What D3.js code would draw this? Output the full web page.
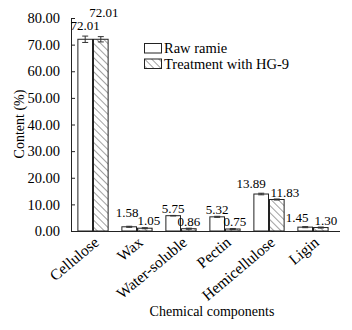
<!DOCTYPE html>
<html><head><meta charset="utf-8">
<script src="https://cdn.jsdelivr.net/npm/d3@7"></script>
<style>
html,body{margin:0;padding:0;background:#fff;}
</style></head>
<body><svg id="c" width="352" height="330"></svg>
<script>
const categories = ["Cellulose","Wax","Water-soluble","Pectin","Hemicellulose","Ligin"];
const seriesNames = ["Raw ramie","Treatment with HG-9"];
const rawValues = [72.01,1.58,5.75,5.32,13.89,1.45];
const treatedValues = [72.01,1.05,0.86,0.75,11.83,1.30];
const rawErrors = [1.2,0.2,0.1,0.2,0.3,0.2];
const treatedErrors = [1.0,0.2,0.2,0.2,0.2,0.2];
const yTicks = [0,10,20,30,40,50,60,70,80];

// label nudges (layout only): [dx, dy] relative to default placement above each bar
const rawLabelNudge = [[0,-6],[-2,-7],[0,0],[0,0],[-10,-3],[-8,-2]];
const treatedLabelNudge = [[3,-19],[4,0],[0,0],[2,0],[8,0],[5,0]];

const FONT = "'Liberation Serif', 'Times New Roman', serif";
const svg = d3.select("#c").attr("font-family", FONT);
const x = d3.scaleBand().domain(categories).range([71,335]).paddingInner(0.29).paddingOuter(0.145);
const sub = d3.scaleBand().domain([0,1]).range([0,x.bandwidth()]);
const y = d3.scaleLinear().domain([0,80]).range([231,18]);

const defs = svg.append("defs");
const pat = defs.append("pattern").attr("id","hatch").attr("patternUnits","userSpaceOnUse")
  .attr("width",5).attr("height",5).attr("patternTransform","rotate(-45)");
pat.append("rect").attr("width",5).attr("height",5).attr("fill","#fff");
pat.append("line").attr("x1",0).attr("y1",0).attr("x2",0).attr("y2",5)
  .attr("stroke","#444").attr("stroke-width",1);

// y axis
const yAxis = svg.append("g").attr("transform","translate(71,0)")
  .call(d3.axisLeft(y).tickValues(yTicks).tickFormat(d3.format(".2f")).tickSizeInner(-4).tickSizeOuter(-4).tickPadding(11));
yAxis.attr("font-family", FONT);
yAxis.selectAll("text").attr("font-size",14.5).attr("fill","#000");
yAxis.selectAll("path,line").attr("stroke","#222");

// x axis
const xAxis = svg.append("g").attr("transform","translate(0,231)")
  .call(d3.axisBottom(x).tickSize(0).tickPadding(0));
xAxis.attr("font-family", FONT);
xAxis.select("path").attr("d","M71,0.5H340").attr("stroke","#222");
xAxis.selectAll("text").attr("font-size",15.5).attr("fill","#000").attr("text-anchor","end")
  .attr("y",0).attr("dy",0)
  .attr("transform","translate(7,13) rotate(-40)");

const series = [rawValues, treatedValues];
const errs = [rawErrors, treatedErrors];
const nudges = [rawLabelNudge, treatedLabelNudge];
series.forEach((vals,si)=>{
  const g = svg.append("g");
  g.selectAll("rect").data(vals).join("rect")
    .attr("x",(d,i)=>x(categories[i])+sub(si)+0.5)
    .attr("y",d=>y(d))
    .attr("width",sub.bandwidth()-1)
    .attr("height",d=>y(0)-y(d))
    .attr("fill",si===0?"#fff":"url(#hatch)")
    .attr("stroke","#222").attr("stroke-width",1);
  vals.forEach((d,i)=>{
    const cx = x(categories[i])+sub(si)+sub.bandwidth()/2;
    const e = errs[si][i];
    g.append("line").attr("x1",cx).attr("x2",cx).attr("y1",y(d+e)).attr("y2",y(d-e)).attr("stroke","#333");
    [d+e,d-e].forEach(v=>g.append("line").attr("x1",cx-3).attr("x2",cx+3).attr("y1",y(v)).attr("y2",y(v)).attr("stroke","#333"));
  });
  g.selectAll("text.val").data(vals).join("text").attr("class","val")
    .attr("x",(d,i)=>x(categories[i])+sub(si)+sub.bandwidth()/2+nudges[si][i][0])
    .attr("y",(d,i)=>y(d)-3+nudges[si][i][1])
    .attr("text-anchor","middle").attr("font-size",13).attr("fill","#000")
    .text(d=>d3.format(".2f")(d));
});

// legend
const lg = svg.append("g");
seriesNames.forEach((n,i)=>{
  lg.append("rect").attr("x",144.5).attr("y",43.5+i*15.5).attr("width",17).attr("height",9.5)
    .attr("fill",i===0?"#fff":"url(#hatch)").attr("stroke","#222");
  lg.append("text").attr("x",164).attr("y",53+i*15.5).attr("font-size",14.5).attr("fill","#000").text(n);
});

svg.append("text").attr("transform","translate(24,124) rotate(-90)").attr("text-anchor","middle")
  .attr("font-size",14).attr("fill","#000").text("Content (%)");
svg.append("text").attr("x",212).attr("y",316).attr("text-anchor","middle")
  .attr("font-size",14).attr("fill","#000").text("Chemical components");
</script></body></html>
